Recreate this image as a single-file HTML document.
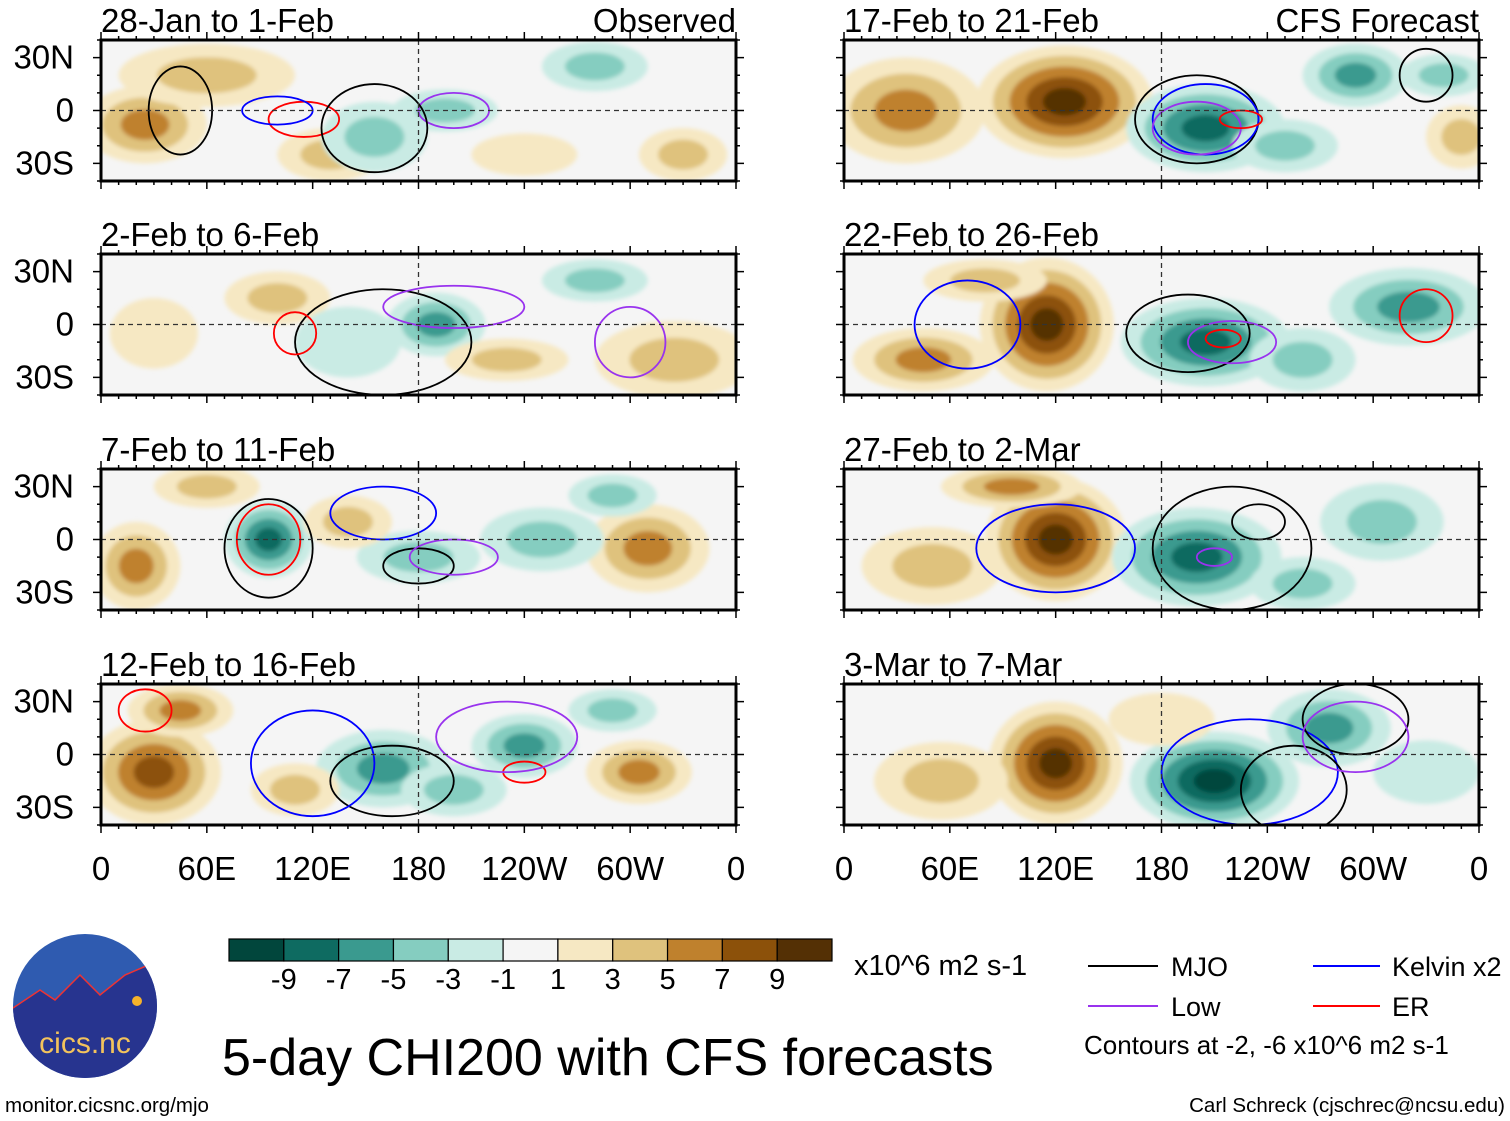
<!DOCTYPE html>
<html><head><meta charset="utf-8"><style>
html,body{margin:0;padding:0;background:#fff}
svg{display:block;font-family:"Liberation Sans",sans-serif}
</style></head><body>
<svg id="fig" width="1510" height="1121" viewBox="0 0 1510 1121" xmlns="http://www.w3.org/2000/svg">
<defs><filter id="soft" x="-20%" y="-20%" width="140%" height="140%"><feGaussianBlur stdDeviation="2"/></filter></defs>
<g id="panels"></g>
<g id="cbar"></g>
<text x="854" y="975" font-size="29">x10^6 m2 s-1</text>
<text x="222" y="1075" font-size="52">5-day CHI200 with CFS forecasts</text>
<g>
<line x1="1088" y1="966" x2="1158" y2="966" stroke="#000" stroke-width="2"/>
<text x="1171" y="976" font-size="27">MJO</text>
<line x1="1313" y1="966" x2="1380" y2="966" stroke="#0000ff" stroke-width="2"/>
<text x="1392" y="976" font-size="27">Kelvin x2</text>
<line x1="1088" y1="1006" x2="1158" y2="1006" stroke="#9933ee" stroke-width="2"/>
<text x="1171" y="1016" font-size="27">Low</text>
<line x1="1313" y1="1006" x2="1380" y2="1006" stroke="#ff0000" stroke-width="2"/>
<text x="1392" y="1016" font-size="27">ER</text>
<text x="1084" y="1054" font-size="26">Contours at -2, -6 x10^6 m2 s-1</text>
</g>
<text x="1505" y="1112" font-size="20.5" text-anchor="end">Carl Schreck (cjschrec@ncsu.edu)</text>
<text x="5" y="1112" font-size="20.5">monitor.cicsnc.org/mjo</text>
<g>
<clipPath id="logoclip"><circle cx="85" cy="1006" r="72"/></clipPath>
<circle cx="85" cy="1006" r="72" fill="#2f5bb0"/>
<path clip-path="url(#logoclip)" d="M10 1010 L40 990 L55 1000 L80 975 L100 995 L125 975 L160 960 L160 1090 L10 1090Z" fill="#27348f" stroke="#e33" stroke-width="1.5"/>
<circle cx="137" cy="1001" r="5" fill="#f6b22a"/>
<text x="85" y="1053" font-size="30" fill="#f3c35c" text-anchor="middle">cics.nc</text>
</g>
</svg>
<script>
const bandColors=["#01463c","#0e6b61","#3a9a8f","#85cdc0","#c9ebe4","#f5f5f5","#f6e8c3","#dfc27d","#bf812d","#8c510a","#543005"];
const tickLabels=["-9","-7","-5","-3","-1","1","3","5","7","9"];
const lonLabels=["0","60E","120E","180","120W","60W","0"];
const latLabels=["30N","0","30S"];
const panelTitles=["28-Jan to 1-Feb","2-Feb to 6-Feb","7-Feb to 11-Feb","12-Feb to 16-Feb","17-Feb to 21-Feb","22-Feb to 26-Feb","27-Feb to 2-Mar","3-Mar to 7-Mar"];
// blobs: [lon, lat, lonRadius, latRadius, peakValue]
const blobs0=[[25,-8,35,22,5],[60,20,50,18,3],[130,-25,30,15,3],[155,-15,30,20,-3],[195,0,30,12,-3],[280,25,30,14,-3],[330,-25,25,15,3],[240,-25,30,12,1]];
const blobs1=[[190,0,28,18,-5],[325,-20,45,22,3],[30,-5,25,20,1],[100,15,30,15,3],[230,-20,35,12,3],[280,25,30,12,-3],[140,-10,30,20,-1]];
const blobs2=[[20,-15,25,25,5],[95,0,25,22,-7],[310,-5,35,25,5],[180,-10,35,15,-3],[250,0,35,18,-3],[60,30,30,12,3],[290,25,25,12,-3],[140,10,25,15,3]];
const blobs3=[[30,-10,38,30,7],[45,25,30,15,5],[160,-8,38,22,-5],[240,5,30,18,-5],[305,-10,30,18,5],[290,25,25,12,-3],[110,-20,25,15,3],[200,-20,30,15,-3]];
const blobs4=[[125,5,50,32,9],[35,0,45,30,5],[205,-10,45,25,-7],[290,20,30,18,-5],[340,20,25,12,-3],[350,-15,20,18,3],[250,-20,30,15,-3]];
const blobs5=[[115,0,38,38,9],[45,-20,40,18,5],[205,-10,48,25,-7],[320,10,45,22,-5],[80,25,35,12,3],[260,-20,30,18,-3]];
const blobs6=[[120,0,40,35,9],[200,-10,48,28,-7],[305,10,35,22,-3],[50,-15,40,22,3],[95,30,40,12,5],[260,-25,30,15,-3]];
const blobs7=[[120,-5,38,35,9],[210,-15,48,28,-9],[275,15,35,22,-5],[55,-15,38,22,3],[330,-10,30,18,-1],[180,20,30,15,1]];
const allBlobs=[blobs0,blobs1,blobs2,blobs3,blobs4,blobs5,blobs6,blobs7];
// contour rings: [lon, lat, lonRadius, latRadius, kind]
const rings0=[[45,0,18,25,'mjo'],[115,-5,20,10,'er'],[100,0,20,8,'kelvin'],[200,0,20,10,'low'],[155,-10,30,25,'mjo']];
const rings1=[[160,-10,50,30,'mjo'],[110,-5,12,12,'er'],[200,10,40,12,'low'],[300,-10,20,20,'low']];
const rings2=[[95,0,18,20,'er'],[95,-5,25,28,'mjo'],[180,-15,20,10,'mjo'],[200,-10,25,10,'low'],[160,15,30,15,'kelvin']];
const rings3=[[165,-15,35,20,'mjo'],[25,25,15,12,'er'],[120,-5,35,30,'kelvin'],[240,-10,12,6,'er'],[230,10,40,20,'low']];
const rings4=[[200,-5,35,25,'mjo'],[205,-5,30,20,'kelvin'],[200,-10,25,15,'low'],[225,-5,12,5,'er'],[330,20,15,15,'mjo']];
const rings5=[[195,-5,35,22,'mjo'],[220,-10,25,12,'low'],[215,-8,10,5,'er'],[330,5,15,15,'er'],[70,0,30,25,'kelvin']];
const rings6=[[220,-5,45,35,'mjo'],[120,-5,45,25,'kelvin'],[235,10,15,10,'mjo'],[210,-10,10,5,'low']];
const rings7=[[230,-10,50,30,'kelvin'],[255,-20,30,25,'mjo'],[290,20,30,20,'mjo'],[290,10,30,20,'low']];
const allRings=[rings0,rings1,rings2,rings3,rings4,rings5,rings6,rings7];
const ringColors={mjo:'#000',kelvin:'#0000ff',low:'#9933ee',er:'#ff0000'};
const NS="http://www.w3.org/2000/svg";
function mk(t,a){const e=document.createElementNS(NS,t);for(const k in a)e.setAttribute(k,a[k]);return e;}
const panelsG=document.getElementById('panels');
const colX=[101,844], rowY=[40,254,469,684], PW=635, PH=141;
function bandIndex(v){return Math.min(10,Math.max(0,Math.floor((v+11)/2)));}
for(let p=0;p<8;p++){
  const x0=colX[p<4?0:1], y0=rowY[p%4];
  const lx=lon=>x0+lon/360*PW, ly=lat=>y0+(40-lat)/80*PH;
  const g=mk('g',{});
  
  
  const cid='clip'+p;
  const cp=mk('clipPath',{id:cid});cp.appendChild(mk('rect',{x:x0,y:y0,width:PW,height:PH}));g.appendChild(cp);
  g.appendChild(mk('rect',{x:x0,y:y0,width:PW,height:PH,fill:bandColors[5]}));
  const fg=mk('g',{'clip-path':'url(#'+cid+')'});
  const inner=mk('g',{filter:'url(#soft)'});
  allBlobs[p].forEach(b=>{
    const [lon,lat,rl,rt,v]=b; const n=Math.ceil(Math.abs(v)/2);
    for(let k=1;k<=n;k++){
      const f=1-(k-1)/(n+0.3); const val=Math.sign(v)*(2*k);
      const e=mk('ellipse',{cx:lx(lon),cy:ly(lat),rx:rl/360*PW*f,ry:rt/80*PH*f,fill:bandColors[bandIndex(val)]});
      
      
      inner.appendChild(e);
    }
  });
  fg.appendChild(inner);
  allRings[p].forEach(r=>{
    const e=mk('ellipse',{cx:lx(r[0]),cy:ly(r[1]),rx:r[2]/360*PW,ry:r[3]/80*PH,fill:'none',stroke:ringColors[r[4]],'stroke-width':1.8});
    
    
    fg.appendChild(e);
  });
  g.appendChild(fg);
  g.appendChild(mk('line',{x1:x0,y1:ly(0),x2:x0+PW,y2:ly(0),stroke:'#333','stroke-dasharray':'5,4','stroke-width':1.3}));
  g.appendChild(mk('line',{x1:lx(180),y1:y0,x2:lx(180),y2:y0+PH,stroke:'#333','stroke-dasharray':'5,4','stroke-width':1.3}));
  g.appendChild(mk('rect',{x:x0,y:y0,width:PW,height:PH,fill:'none',stroke:'#000','stroke-width':3}));
  for(let i=0;i<=36;i++){const xx=x0+i*PW/36;const L=i%6==0?8:4;
    g.appendChild(mk('line',{x1:xx,y1:y0+PH,x2:xx,y2:y0+PH+L,stroke:'#000','stroke-width':1.5}));
    g.appendChild(mk('line',{x1:xx,y1:y0,x2:xx,y2:y0-L,stroke:'#000','stroke-width':1.5}));}
  for(let la=-40;la<=40;la+=10){const L=la%30==0?8:4;const yy=ly(la);
    g.appendChild(mk('line',{x1:x0,y1:yy,x2:x0-L,y2:yy,stroke:'#000','stroke-width':1.5}));
    g.appendChild(mk('line',{x1:x0+PW,y1:yy,x2:x0+PW+L,y2:yy,stroke:'#000','stroke-width':1.5}));}
  if(p<4){[30,0,-30].forEach((la,i)=>{const t=mk('text',{x:x0-27,y:ly(la)+11,'font-size':33,'text-anchor':'end'});t.textContent=latLabels[i];
    g.appendChild(t);});}
  const tt=mk('text',{x:x0,y:y0-8,'font-size':33});tt.textContent=panelTitles[p];
  g.appendChild(tt);
  if(p==0||p==4){const r=mk('text',{x:x0+PW,y:y0-8,'font-size':33,'text-anchor':'end'});r.textContent=p==0?'Observed':'CFS Forecast';
    g.appendChild(r);}
  if(p%4==3){lonLabels.forEach((s,i)=>{const t=mk('text',{x:x0+i*PW/6,y:880,'font-size':33,'text-anchor':'middle'});t.textContent=s;
    g.appendChild(t);});}
  panelsG.appendChild(g);
}
const cb=document.getElementById('cbar');
const bw=(832-229)/11;
bandColors.forEach((c,i)=>{const r=mk('rect',{x:229+i*bw,y:939,width:bw,height:22,fill:c,stroke:'#000','stroke-width':1.2});
  cb.appendChild(r);});
tickLabels.forEach((s,i)=>{const t=mk('text',{x:229+(i+1)*bw,y:989,'font-size':29,'text-anchor':'middle'});t.textContent=s;
  cb.appendChild(t);});
</script>
</body></html>
